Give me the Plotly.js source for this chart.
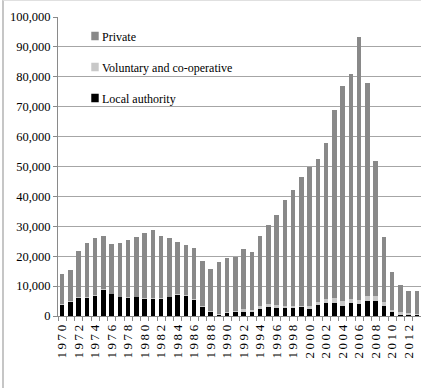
<!DOCTYPE html>
<html>
<head>
<meta charset="utf-8">
<script src="https://cdn.plot.ly/plotly-3.0.1.min.js"></script>
<style>
  html, body { margin: 0; padding: 0; background: #fff; }
  #chart { width: 421px; height: 388px; position: relative; }
  #frame { position: absolute; left: 2px; top: 0px; width: 430px; height: 400px;
           border-left: 2px solid #c6c6c6; border-top: 1px solid #e0e0e0; pointer-events: none; }
  .xtick text { letter-spacing: 2.6px; }
  .legendpoints path { transform: translate(33px, 0px) scale(0.62, 0.72); }
</style>
</head>
<body>
<div id="chart"></div>
<div id="frame"></div>
<script>
const years = ["1970","1971","1972","1973","1974","1975","1976","1977","1978","1979",
  "1980","1981","1982","1983","1984","1985","1986","1987","1988","1989",
  "1990","1991","1992","1993","1994","1995","1996","1997","1998","1999",
  "2000","2001","2002","2003","2004","2005","2006","2007","2008","2009",
  "2010","2011","2012","2013"];

const localAuthority = [3700,4800,5900,5900,6700,8700,7200,6200,5900,6200,
  5800,5700,5700,6200,7000,6700,5300,3100,1400,400,
  1000,1200,1500,1200,2400,2900,2700,2600,2800,2900,
  2200,3600,4400,4500,3500,4200,4000,5000,4900,3400,
  1300,500,400,300];

const voluntary = [300,300,300,300,300,300,300,300,300,300,
  300,300,300,300,300,300,300,200,200,300,
  400,600,900,900,900,1000,900,750,500,600,
  1000,1250,1360,1600,1600,1350,1240,1700,1900,1400,
  800,750,500,300];

const privateSector = [9900,10300,15400,18300,19100,17700,16500,17900,19100,19900,
  21700,22900,20600,19600,17500,16900,17000,15100,14100,17400,
  18100,17800,20000,19300,23300,26700,30100,35450,39000,43000,
  46600,47750,51940,62700,71900,75450,88160,71300,44900,21600,
  12500,9250,7600,7700];

const tickLabels = years.map((y, i) => (i % 2 === 0 ? y : ""));

const serif = "Liberation Serif, Times New Roman, serif";

const traces = [
  { type: "bar", name: "Local authority", x: years, y: localAuthority,
    legendgroup: "la", legendrank: 3, marker: { color: "#000000" } },
  { type: "bar", name: "Voluntary and co-operative", x: years, y: voluntary,
    legendgroup: "vol", legendrank: 2, marker: { color: "#c8c8c8" } },
  { type: "bar", name: "Private", x: years, y: privateSector,
    legendgroup: "pri", legendrank: 1, marker: { color: "#898989" } }
];

const layout = {
  width: 421, height: 388,
  margin: { l: 58, r: 0, t: 17, b: 72, pad: 0 },
  paper_bgcolor: "#ffffff", plot_bgcolor: "#ffffff",
  barmode: "stack",
  bargap: 0.45,
  showlegend: true,
  legend: {
    x: 0.011, y: 0.985, xanchor: "left", yanchor: "top",
    traceorder: "grouped",
    font: { family: serif, size: 12, color: "#000" },
    bgcolor: "rgba(0,0,0,0)",
    itemwidth: 30,
    tracegroupgap: 12,
    itemsizing: "constant"
  },
  xaxis: {
    type: "category",
    tickvals: years, ticktext: tickLabels,
    tickangle: -90,
    tickfont: { family: serif, size: 13, color: "#000" },
    ticks: "outside", ticklen: 4, tickcolor: "#8a8a8a", tickson: "boundaries",
    showline: true, linecolor: "#8a8a8a", linewidth: 1,
    showgrid: false, zeroline: false,
    range: [-0.5, 43.5], fixedrange: true
  },
  yaxis: {
    range: [0, 100000],
    dtick: 10000,
    tickformat: ",d",
    tickfont: { family: serif, size: 12.5, color: "#000" },
    ticks: "outside", ticklen: 4, tickcolor: "#8a8a8a",
    showline: true, linecolor: "#8a8a8a", linewidth: 1,
    showgrid: true, gridcolor: "#a6a6a6", gridwidth: 1,
    zeroline: false, fixedrange: true
  }
};

Plotly.newPlot("chart", traces, layout, { displayModeBar: false, staticPlot: true });
</script>
</body>
</html>
